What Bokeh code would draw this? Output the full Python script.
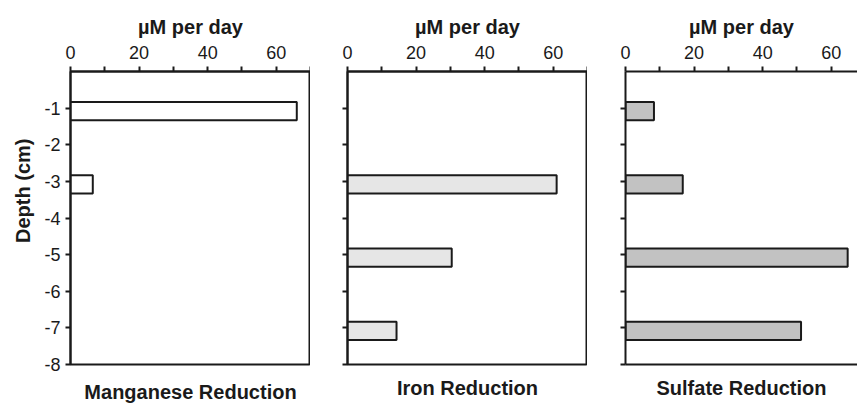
import math
from bokeh.plotting import figure
from bokeh.layouts import row
from bokeh.models import Range1d, FixedTicker, LinearAxis, ColumnDataSource, Title
from bokeh.embed import file_html
from bokeh.resources import INLINE

# ---- data ----
depths = [-1, -3, -5, -7]
manganese = [66.0, 6.5, 0.0, 0.0]
iron = [0.0, 61.0, 30.4, 14.3]
sulfate = [8.3, 16.7, 64.8, 51.2]
x_major_ticks = [0, 20, 40, 60]
x_minor_ticks = [10, 30, 50, 70]
y_ticks = [-1, -2, -3, -4, -5, -6, -7, -8]
y_tick_labels = ["-1", "-2", "-3", "-4", "-5", "-6", "-7", "-8"]
panel_titles = ["Manganese Reduction", "Iron Reduction", "Sulfate Reduction"]
x_label = "µM per day"
y_label = "Depth (cm)"

# ---- style ----
FONT = "Liberation Sans"
INK = "#1a1a1a"
fills = ["#ffffff", "#e6e6e6", "#c2c2c2"]
BAR_OFFSET = 0.08   # bars sit slightly below their depth tick
BAR_HEIGHT = 0.5


def make_panel(idx, values, fill, x_end, border_left, frame_w, show_ylabels, full_outline, title_standoff):
    p = figure(
        frame_width=frame_w, frame_height=293,
        min_border_left=border_left, min_border_right=0,
        min_border_top=71, min_border_bottom=40,
        x_range=Range1d(0, x_end), y_range=Range1d(-8, 0),
        x_axis_location="above",
        output_backend="svg", toolbar_location=None,
        background_fill_color="white", border_fill_color="white",
    )
    p.grid.visible = False
    if full_outline:
        p.outline_line_color = INK
        p.outline_line_width = 2
    else:
        p.outline_line_color = None

    # bottom axis: only a line (panel 3) and the panel title as its label
    bottom = LinearAxis(ticker=FixedTicker(ticks=[]), major_tick_out=0, minor_tick_out=0,
                        major_tick_in=0, minor_tick_in=0, major_label_standoff=0)
    bottom.axis_line_width = 2
    bottom.axis_line_color = None if full_outline else INK
    bottom.axis_label = panel_titles[idx]
    bottom.axis_label_text_font = FONT
    bottom.axis_label_text_font_style = "bold"
    bottom.axis_label_text_font_size = "20px"
    bottom.axis_label_text_color = INK
    bottom.axis_label_standoff = title_standoff
    p.add_layout(bottom, "below")

    xa = p.xaxis[0]
    xa.ticker = FixedTicker(ticks=x_major_ticks, minor_ticks=x_minor_ticks)
    xa.axis_line_width = 2
    xa.axis_line_color = INK
    xa.major_tick_out = 5
    xa.major_tick_in = 0
    xa.minor_tick_out = 5
    xa.minor_tick_in = 0
    xa.major_tick_line_width = 2
    xa.minor_tick_line_width = 2
    xa.major_tick_line_color = INK
    xa.minor_tick_line_color = INK
    xa.major_label_text_font = FONT
    xa.major_label_text_font_size = "18px"
    xa.major_label_text_color = INK
    xa.major_label_standoff = 8
    xa.axis_label = x_label
    xa.axis_label_text_font = FONT
    xa.axis_label_text_font_style = "bold"
    xa.axis_label_text_font_size = "20px"
    xa.axis_label_text_color = INK
    xa.axis_label_standoff = 5

    ya = p.yaxis[0]
    ya.ticker = FixedTicker(ticks=y_ticks)
    ya.axis_line_width = 2
    ya.axis_line_color = INK
    ya.major_tick_out = 5
    ya.major_tick_in = 0
    ya.minor_tick_out = 0
    ya.minor_tick_in = 0
    ya.major_tick_line_width = 2
    ya.major_tick_line_color = INK
    ya.major_label_text_font = FONT
    ya.major_label_text_font_size = "18px"
    ya.major_label_text_color = INK
    ya.major_label_standoff = 5
    if show_ylabels:
        ya.major_label_overrides = {t: s for t, s in zip(y_ticks, y_tick_labels)}
    else:
        ya.major_label_overrides = {t: "" for t in y_ticks}

    ys = [d - BAR_OFFSET for d, v in zip(depths, values) if v > 0]
    vs = [v for v in values if v > 0]
    src = ColumnDataSource(dict(y=ys, right=vs))
    p.hbar(y="y", left=0, right="right", height=BAR_HEIGHT, source=src,
           fill_color=fill, line_color=INK, line_width=2)

    if show_ylabels:
        t = Title(text=y_label, align="right", offset=67,
                  text_font=FONT, text_font_style="bold", text_font_size="20px",
                  text_color=INK, standoff=16, vertical_align="bottom")
        p.add_layout(t, "left")
    return p


p1 = make_panel(0, manganese, fills[0], 70, 70, 240, True, True, 16)
p2 = make_panel(1, iron, fills[1], 70, 37, 240, False, True, 12)
p3 = make_panel(2, sulfate, fills[2], 232 / (240 / 70), 38, 232, False, False, 12)

layout = row(p1, p2, p3, spacing=0)
open("out.html", "w").write(file_html(layout, INLINE))
